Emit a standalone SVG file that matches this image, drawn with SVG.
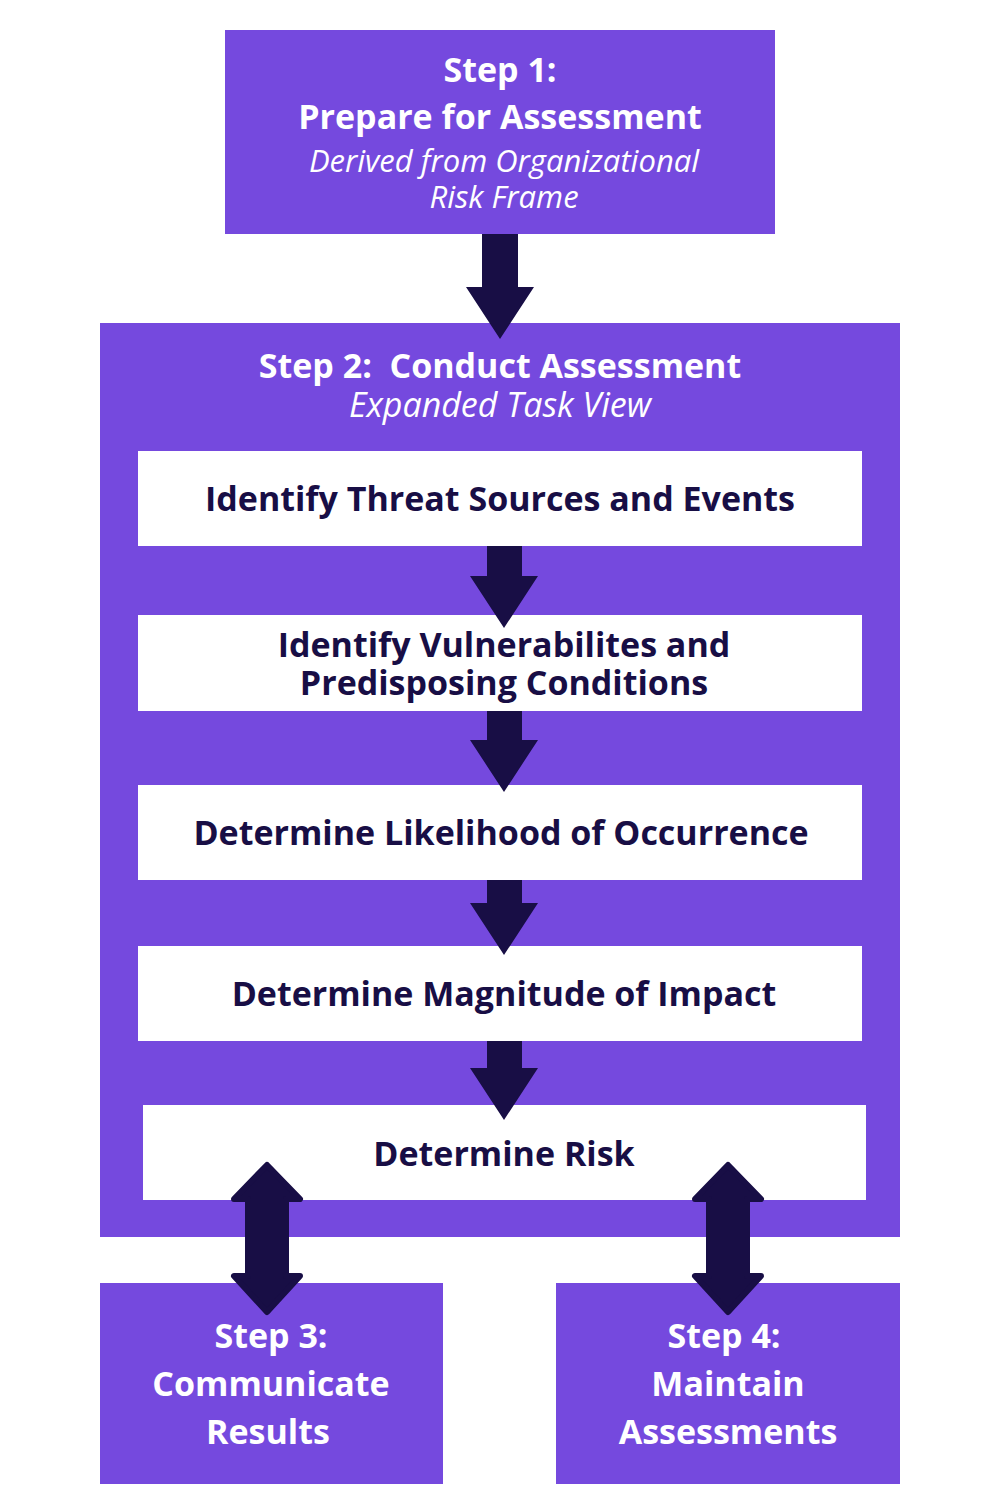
<svg xmlns="http://www.w3.org/2000/svg" width="1000" height="1500" viewBox="0 0 1000 1500">
<style>
.p{fill:#7549DE}
.w{fill:#FFFFFF}
.a{fill:#180E45}
.da{fill:#180E45;stroke:#180E45;stroke-width:6;stroke-linejoin:round}
text{font-family:"Open Sans","Noto Sans","Liberation Sans",sans-serif;text-anchor:middle}
.tw{fill:#FFFFFF;font-weight:700;font-size:34px}
.ti{fill:#FFFFFF;font-style:italic;font-weight:400;font-size:31px}
.td{fill:#180E45;font-weight:700;font-size:34px}
</style>
<rect width="1000" height="1500" fill="#FFFFFF"/>
<g id="step1">
<rect class="p" x="225" y="30" width="550" height="204"/>
<text class="tw" x="500" y="82">Step 1:</text>
<text class="tw" x="500" y="129">Prepare for Assessment</text>
<text class="ti" x="504" y="172"><tspan x="504" y="172">Derived from Organizational</tspan><tspan x="504" y="208">Risk Frame</tspan></text>
</g>
<g id="step2">
<rect class="p" x="100" y="323" width="800" height="914"/>
<text class="tw" x="500" y="378" style="white-space:pre" xml:space="preserve">Step 2:  Conduct Assessment</text>
<text class="ti" x="500" y="417" style="font-size:34px">Expanded Task View</text>
</g>
<g id="task1">
<rect class="w" x="138" y="451" width="724" height="95"/>
<text class="td" x="500" y="511">Identify Threat Sources and Events</text>
</g>
<g id="task2">
<rect class="w" x="138" y="615" width="724" height="96"/>
<text class="td" x="504" y="657"><tspan x="504" y="657">Identify Vulnerabilites and</tspan><tspan x="504" y="695">Predisposing Conditions</tspan></text>
</g>
<g id="task3">
<rect class="w" x="138" y="785" width="724" height="95"/>
<text class="td" x="501" y="845">Determine Likelihood of Occurrence</text>
</g>
<g id="task4">
<rect class="w" x="138" y="946" width="724" height="95"/>
<text class="td" x="504" y="1006">Determine Magnitude of Impact</text>
</g>
<g id="task5">
<rect class="w" x="143" y="1105" width="723" height="95"/>
<text class="td" x="504" y="1166">Determine Risk</text>
</g>
<g id="step3">
<rect class="p" x="100" y="1283" width="343" height="201"/>
<text class="tw" x="271" y="1348">Step 3:</text>
<text class="tw" x="271" y="1396">Communicate</text>
<text class="tw" x="268" y="1444">Results</text>
</g>
<g id="step4">
<rect class="p" x="556" y="1283" width="344" height="201"/>
<text class="tw" x="724" y="1348">Step 4:</text>
<text class="tw" x="728" y="1396">Maintain</text>
<text class="tw" x="728" y="1444">Assessments</text>
</g>
<g id="connectors">
<polygon class="a" points="482,234 518,234 518,287 534,287 500,339 466,287 482,287"/>
<polygon class="a" points="487,546 522,546 522,576 538,576 504,628 470,576 487,576"/>
<polygon class="a" points="487,711 522,711 522,740 538,740 504,792 470,740 487,740"/>
<polygon class="a" points="487,880 522,880 522,903 538,903 504,955 470,903 487,903"/>
<polygon class="a" points="487,1041 522,1041 522,1068 538,1068 504,1120 470,1068 487,1068"/>
<polygon class="da" points="267,1165 300,1199 286,1199 286,1276 300,1276 267,1312 234,1276 248,1276 248,1199 234,1199"/>
<polygon class="da" points="728,1165 761,1199 747,1199 747,1276 761,1276 728,1312 695,1276 709,1276 709,1199 695,1199"/>
</g>
</svg>
